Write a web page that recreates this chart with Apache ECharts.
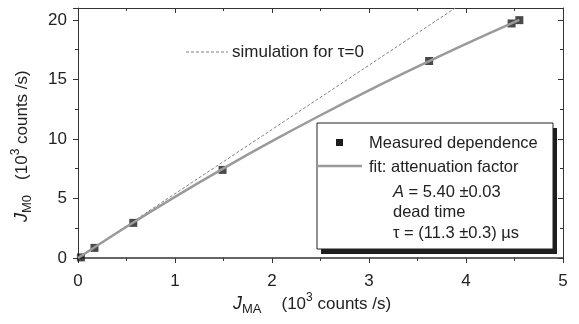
<!DOCTYPE html>
<html>
<head>
<meta charset="utf-8">
<script src="https://cdn.jsdelivr.net/npm/echarts@6/dist/echarts.min.js"></script>
<style>
html,body{margin:0;padding:0;background:#fff;}
#c{width:579px;height:324px;}
</style>
</head>
<body>
<div id="c"></div>
<script>
// Measured dependence (J_MA, J_M0) in 10^3 counts/s
var measuredX = [0.03, 0.17, 0.57, 1.49, 3.62, 4.47, 4.55];
var measuredY = [0.05, 0.85, 2.95, 7.40, 16.55, 19.70, 19.98];
// Fit: attenuation factor curve
var fitX = [0, 0.5, 1.0, 1.5, 2.0, 2.5, 3.0, 3.5, 4.0, 4.55];
var fitY = [0, 2.63, 5.14, 7.53, 9.81, 11.99, 14.08, 16.07, 17.99, 20.0];
// Simulation for tau = 0 (dashed straight line)
var simX = [0, 3.89];
var simY = [0, 21];
// Axis ticks
var xTicks = [0, 1, 2, 3, 4, 5];
var yTicks = [0, 5, 10, 15, 20];
var legendTexts = ['Measured dependence', 'fit: attenuation factor'];

function zip(a, b) { return a.map(function (v, i) { return [v, b[i]]; }); }

var FONT = '"Liberation Sans", Arial, Helvetica, sans-serif';
var TXT = '#222';

var chart = echarts.init(document.getElementById('c'), null, {renderer: 'canvas'});

function richName(gap) {
  return {
    j: {fontStyle: 'italic', fontSize: 18, fontFamily: FONT, fill: TXT, lineHeight: 24},
    sub: {fontSize: 13, fontFamily: FONT, fill: TXT, verticalAlign: 'bottom', lineHeight: 13},
    gap: {width: gap, lineHeight: 24},
    t: {fontSize: 17, fontFamily: FONT, fill: TXT, lineHeight: 24},
    sup: {fontSize: 12, fontFamily: FONT, fill: TXT, verticalAlign: 'top', lineHeight: 13}
  };
}

var option = {
  animation: false,
  backgroundColor: '#fff',
  grid: {left: 78, right: 16, top: 8, bottom: 66, show: false},
  xAxis: [{
    type: 'value', min: 0, max: 5, interval: 1,
    position: 'bottom',
    axisLine: {show: true, onZero: false, lineStyle: {color: '#333', width: 1.5}},
    axisTick: {show: true, inside: false, length: 5, lineStyle: {color: '#333', width: 1}},
    minorTick: {show: true, splitNumber: 2, length: 3, lineStyle: {color: '#333', width: 1}},
    splitLine: {show: false},
    axisLabel: {margin: 15, fontSize: 17, fontFamily: FONT, color: TXT,
      formatter: function (v) { return xTicks.indexOf(v) >= 0 ? String(v) : ''; }}
  }, {
    type: 'value', min: 0, max: 5, interval: 1,
    position: 'top',
    axisLine: {show: true, onZero: false, lineStyle: {color: '#333', width: 1}},
    axisTick: {show: true, inside: true, length: 5, lineStyle: {color: '#333'}},
    minorTick: {show: true, splitNumber: 2, length: 3, lineStyle: {color: '#333'}},
    splitLine: {show: false},
    axisLabel: {show: false}
  }],
  yAxis: [{
    type: 'value', min: 0, max: 21, interval: 5,
    position: 'left',
    axisLine: {show: true, onZero: false, lineStyle: {color: '#333', width: 1}},
    axisTick: {show: true, inside: false, length: 5, lineStyle: {color: '#333'}},
    minorTick: {show: true, splitNumber: 2, length: 3, lineStyle: {color: '#333'}},
    splitLine: {show: false},
    axisLabel: {margin: 11, fontSize: 17, fontFamily: FONT, color: TXT, showMaxLabel: false,
      formatter: function (v) { return yTicks.indexOf(v) >= 0 ? String(v) : ''; }}
  }, {
    type: 'value', min: 0, max: 21, interval: 5,
    position: 'right',
    axisLine: {show: true, onZero: false, lineStyle: {color: '#333', width: 1}},
    axisTick: {show: true, inside: true, length: 5, lineStyle: {color: '#333'}},
    minorTick: {show: true, splitNumber: 2, length: 3, lineStyle: {color: '#333'}},
    splitLine: {show: false},
    axisLabel: {show: false}
  }],
  series: [{
    name: 'simulation for τ=0',
    type: 'line',
    data: zip(simX, simY),
    symbol: 'none',
    lineStyle: {color: '#808080', width: 1, type: [3, 2]},
    z: 2
  }, {
    name: 'Measured dependence',
    type: 'scatter',
    data: zip(measuredX, measuredY),
    symbol: 'rect', symbolSize: 8,
    itemStyle: {color: '#1c1c1c'},
    z: 3
  }, {
    name: 'fit: attenuation factor',
    type: 'line',
    data: zip(fitX, fitY),
    smooth: 0.3,
    symbol: 'none',
    lineStyle: {color: '#9a9a9a', width: 2.5},
    z: 4
  }],
  graphic: [
    // axis titles
    {type: 'text', x: 233, y: 304, style: {
      text: '{j|J}{sub|MA}{gap|}{t|(10}{sup|3}{t| counts /s)}',
      rich: richName(20), textVerticalAlign: 'middle', textAlign: 'left'}, z: 10},
    {type: 'text', x: 22, y: 222, rotation: Math.PI / 2, style: {
      text: '{j|J}{sub|M0}{gap|}{t|(10}{sup|3}{t| counts /s)}',
      rich: richName(15), textVerticalAlign: 'middle', textAlign: 'left'}, z: 10},
    // simulation label
    {type: 'line', shape: {x1: 186, y1: 52, x2: 228, y2: 52}, style: {stroke: '#808080', lineWidth: 1, lineDash: [3, 2]}, z: 10},
    {type: 'text', x: 232, y: 52, style: {text: 'simulation for τ=0', font: '17px ' + FONT, fill: TXT, textVerticalAlign: 'middle'}, z: 10},
    // legend shadow & box
    {type: 'rect', shape: {x: 321, y: 128, width: 236, height: 126}, style: {fill: '#1e1e1e'}, z: 20},
    {type: 'rect', shape: {x: 317, y: 123, width: 236, height: 126}, style: {fill: '#fff', stroke: '#222', lineWidth: 1}, z: 21},
    {type: 'rect', shape: {x: 336, y: 139, width: 7, height: 7}, style: {fill: '#1c1c1c'}, z: 22},
    {type: 'line', shape: {x1: 317, y1: 166, x2: 362, y2: 166}, style: {stroke: '#9a9a9a', lineWidth: 2.5}, z: 22},
    {type: 'text', x: 369, y: 143, style: {text: legendTexts[0], font: '16.5px ' + FONT, fill: TXT, textVerticalAlign: 'middle'}, z: 22},
    {type: 'text', x: 369, y: 167, style: {text: legendTexts[1], font: '16.5px ' + FONT, fill: TXT, textVerticalAlign: 'middle'}, z: 22},
    {type: 'text', x: 393, y: 192, style: {
      text: '{i|A} = 5.40 ±0.03',
      rich: {i: {fontStyle: 'italic', fontSize: 16.5, fontFamily: FONT, fill: TXT}},
      font: '16.5px ' + FONT, fill: TXT, textVerticalAlign: 'middle'}, z: 22},
    {type: 'text', x: 393, y: 212, style: {text: 'dead time', font: '16.5px ' + FONT, fill: TXT, textVerticalAlign: 'middle'}, z: 22},
    {type: 'text', x: 393, y: 233, style: {text: 'τ = (11.3 ±0.3) µs', font: '16.5px ' + FONT, fill: TXT, textVerticalAlign: 'middle'}, z: 22}
  ]
};
chart.setOption(option);
</script>
</body>
</html>
